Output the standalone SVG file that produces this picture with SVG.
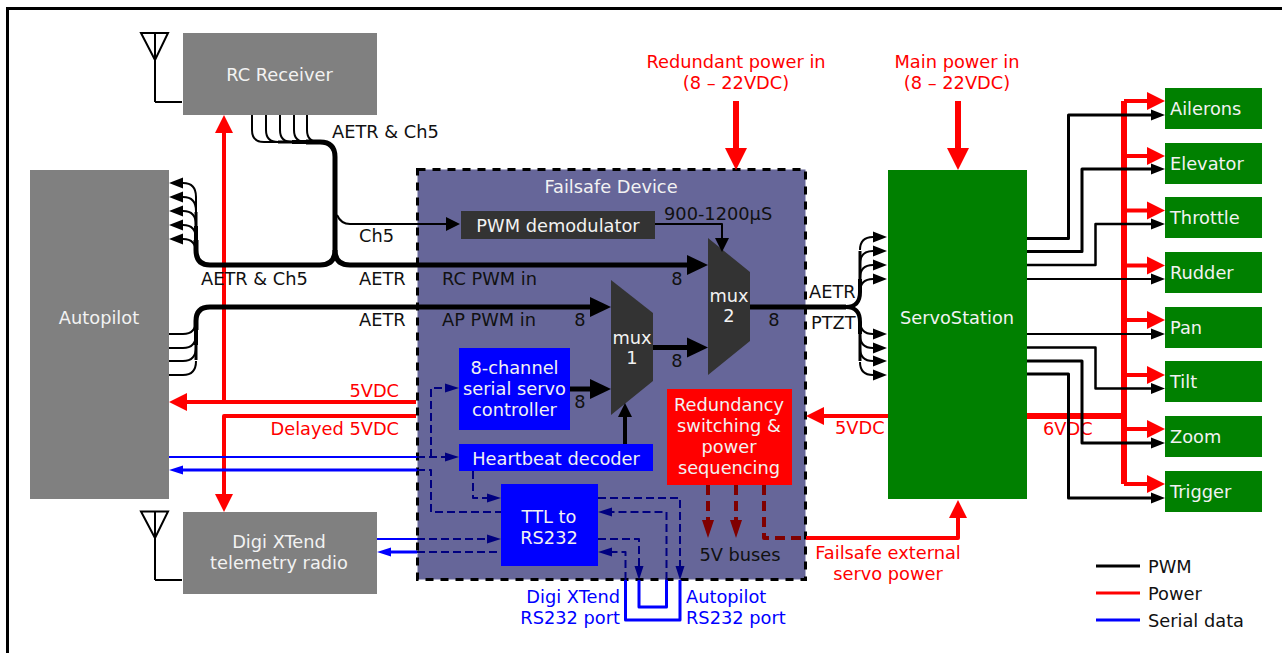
<svg xmlns="http://www.w3.org/2000/svg" width="1282" height="653" viewBox="0 0 1282 653">
<style>
text{font-family:"DejaVu Sans",Verdana,sans-serif;font-size:17.8px;fill:#111}
.m{text-anchor:middle}.e{text-anchor:end}
.w{fill:#f2f2f2}.r{fill:#f00}.b{fill:#00f}
.l{fill:none;stroke-linejoin:round}
.k{stroke:#000}.p{stroke:#f00;stroke-width:4}.s{stroke:#00f}
.n{stroke:#000080;stroke-width:2;stroke-dasharray:8 4}
.d{stroke:#800000;stroke-width:4;stroke-dasharray:10 6}
.ap{marker-end:url(#ar)}.ab{marker-end:url(#ab)}.an{marker-end:url(#an)}.ad{marker-end:url(#ad)}
</style>
<defs>
<marker id="ak" markerUnits="userSpaceOnUse" markerWidth="22" markerHeight="22" refX="0" refY="11" orient="auto" overflow="visible"><path d="M0 1L21 11L0 21Z" fill="#000"/></marker>
<marker id="at" markerUnits="userSpaceOnUse" markerWidth="15" markerHeight="12" refX="0" refY="6" orient="auto" overflow="visible"><path d="M0 0.500L14 6L0 11.500Z" fill="#000"/></marker>
<marker id="am" markerUnits="userSpaceOnUse" markerWidth="15" markerHeight="16" refX="0" refY="8" orient="auto" overflow="visible"><path d="M0 1L14 8L0 15Z" fill="#000"/></marker>
<marker id="ar" markerUnits="userSpaceOnUse" markerWidth="18" markerHeight="18" refX="0" refY="9" orient="auto" overflow="visible"><path d="M0 0L18 9L0 18Z" fill="#f00"/></marker>
<marker id="ar2" markerUnits="userSpaceOnUse" markerWidth="22" markerHeight="22" refX="0" refY="11" orient="auto" overflow="visible"><path d="M0 0L22 11L0 22Z" fill="#f00"/></marker>
<marker id="ab" markerUnits="userSpaceOnUse" markerWidth="15" markerHeight="10" refX="0" refY="5" orient="auto" overflow="visible"><path d="M0 0.500L14 5L0 9.500Z" fill="#00f"/></marker>
<marker id="an" markerUnits="userSpaceOnUse" markerWidth="15" markerHeight="10" refX="0" refY="5" orient="auto" overflow="visible"><path d="M0 0.500L14 5L0 9.500Z" fill="#000080"/></marker>
<marker id="ad" markerUnits="userSpaceOnUse" markerWidth="18" markerHeight="14" refX="0" refY="6" orient="auto" overflow="visible"><path d="M0 0L18 6L0 12Z" fill="#800000"/></marker>
</defs>
<rect width="1282" height="653" fill="#fff"/>
<path d="M7.500 653V8.500H1282" fill="none" stroke="#000" stroke-width="3"/>

<g id="rc-receiver"><rect x="183" y="33" width="194" height="82" fill="#808080"/><text class="m w" x="279.500" y="81">RC Receiver</text></g>
<g id="rc-antenna"><path d="M155 102H182M155 102V60M141 33H168L155 60L141 33ZM155 33V60" fill="none" stroke="#000" stroke-width="2"/></g>
<g id="autopilot"><rect x="30" y="170" width="139" height="329" fill="#808080"/><text class="m w" x="99" y="324">Autopilot</text></g>
<g id="digi-xtend"><rect x="183" y="512" width="194" height="82" fill="#808080"/><text class="m w" x="279" y="548">Digi XTend</text><text class="m w" x="279" y="569">telemetry radio</text></g>
<g id="digi-antenna"><path d="M155 580H182M155 580V538M141 511.500H168L155 538L141 511.500ZM155 511.500V538" fill="none" stroke="#000" stroke-width="2"/></g>
<g id="failsafe"><rect x="417.500" y="169.500" width="388" height="410" fill="#666699" stroke="#000" stroke-width="3" stroke-dasharray="8 7"/><text class="m w" x="611" y="193">Failsafe Device</text></g>
<g id="pwm-demodulator"><rect x="461" y="211" width="194" height="28" fill="#333"/><text class="m w" x="558" y="232">PWM demodulator</text></g>
<g id="mux1"><path d="M611 280L653 313V381L611 415Z" fill="#333"/><text class="m w" x="632" y="344">mux</text><text class="m w" x="632" y="364">1</text></g>
<g id="mux2"><path d="M708 238L750 272V341L708 375Z" fill="#333"/><text class="m w" x="729" y="302">mux</text><text class="m w" x="729" y="322">2</text></g>
<g id="servo-controller"><rect x="459" y="348" width="111" height="82" fill="#00f"/><text class="m w" x="514.500" y="374">8-channel</text><text class="m w" x="514.500" y="395">serial servo</text><text class="m w" x="514.500" y="416">controller</text></g>
<g id="heartbeat"><rect x="459" y="444" width="194" height="27" fill="#00f"/><text class="m w" x="556" y="465">Heartbeat decoder</text></g>
<g id="ttl"><rect x="501" y="484" width="97" height="82" fill="#00f"/><text class="m w" x="549" y="523">TTL to</text><text class="m w" x="549" y="544">RS232</text></g>
<g id="redundancy"><rect x="667" y="389" width="125" height="96" fill="#f00"/><text class="m w" x="729" y="411">Redundancy</text><text class="m w" x="729" y="432">switching &amp;</text><text class="m w" x="729" y="453">power</text><text class="m w" x="729" y="474">sequencing</text></g>
<g id="servostation"><rect x="888" y="170" width="139" height="329" fill="#008000"/><text class="m w" x="957" y="324">ServoStation</text></g>
<g id="out-ailerons"><rect x="1165" y="88" width="97" height="41" fill="#008000"/><text class="w" x="1170" y="115">Ailerons</text></g>
<g id="out-elevator"><rect x="1165" y="143" width="97" height="41" fill="#008000"/><text class="w" x="1170" y="170">Elevator</text></g>
<g id="out-throttle"><rect x="1165" y="197" width="97" height="41" fill="#008000"/><text class="w" x="1170" y="224">Throttle</text></g>
<g id="out-rudder"><rect x="1165" y="252" width="97" height="41" fill="#008000"/><text class="w" x="1170" y="279">Rudder</text></g>
<g id="out-pan"><rect x="1165" y="307" width="97" height="41" fill="#008000"/><text class="w" x="1170" y="334">Pan</text></g>
<g id="out-tilt"><rect x="1165" y="361" width="97" height="41" fill="#008000"/><text class="w" x="1170" y="388">Tilt</text></g>
<g id="out-zoom"><rect x="1165" y="416" width="97" height="41" fill="#008000"/><text class="w" x="1170" y="443">Zoom</text></g>
<g id="out-trigger"><rect x="1165" y="471" width="97" height="41" fill="#008000"/><text class="w" x="1170" y="498">Trigger</text></g>

<text class="r" x="1043" y="435">6VDC</text>

<g id="connectors">
<path class="l p ap" d="M224 402V133"/>
<path class="l p ap" d="M416 402H187"/>
<path class="l p ap" d="M416 416H224V494"/>
<path class="l" stroke="#f00" stroke-width="6" style="marker-end:url(#ar2)" d="M736 101V148"/>
<path class="l" stroke="#f00" stroke-width="6" style="marker-end:url(#ar2)" d="M958 101V148"/>
<path class="l p ap" d="M888 416H824"/>
<path class="l p ap" d="M806 538H958V518"/>
<path class="l" stroke="#f00" stroke-width="6" d="M1027 416H1124"/>
<path class="l" stroke="#f00" stroke-width="6" d="M1124 101V484"/>
<path class="l p ap" d="M1124 101H1147"/>
<path class="l p ap" d="M1124 156H1147"/>
<path class="l p ap" d="M1124 210.500H1147"/>
<path class="l p ap" d="M1124 265.500H1147"/>
<path class="l p ap" d="M1124 320H1147"/>
<path class="l p ap" d="M1124 375H1147"/>
<path class="l p ap" d="M1124 429H1147"/>
<path class="l p ap" d="M1124 484H1147"/>
<path class="l d ad" d="M708 485V520"/>
<path class="l d ad" d="M736 485V520"/>
<path class="l d" d="M764 485V538H806"/>
<path class="l k" stroke-width="2" d="M252 115V130Q252 142 264 142H278"/>
<path class="l k" stroke-width="2" d="M266 115V130Q266 142 278 142"/>
<path class="l k" stroke-width="2" d="M280 115V130Q280 142 292 142"/>
<path class="l k" stroke-width="2" d="M294 115V130Q294 142 306 142"/>
<path class="l k" stroke-width="2" d="M307 115V130Q307 142 319 142"/>
<path class="l k" stroke-width="3" d="M278 142H292"/>
<path class="l k" stroke-width="4" d="M292 142H306"/>
<path class="l k" stroke-width="5" d="M306 142H320Q335 142 335 157V250Q335 265 320 265H210Q196 265 196 250V240"/>
<path class="l k" stroke-width="4" d="M196 240V226"/>
<path class="l k" stroke-width="3" d="M196 226V212"/>
<path class="l k" stroke-width="2" d="M196 212V197"/>
<path class="l k" stroke-width="2" style="marker-end:url(#at)" d="M196 197Q196 183 183 183"/>
<path class="l k" stroke-width="2" style="marker-end:url(#at)" d="M196 211Q196 197 183 197"/>
<path class="l k" stroke-width="2" style="marker-end:url(#at)" d="M196 225Q196 211 183 211"/>
<path class="l k" stroke-width="2" style="marker-end:url(#at)" d="M196 239Q196 225 183 225"/>
<path class="l k" stroke-width="2" style="marker-end:url(#at)" d="M196 253Q196 239 183 239"/>
<path class="l k" stroke-width="5" style="marker-end:url(#ak)" d="M335 250Q335 265 350 265H687"/>
<path class="l k" stroke-width="2" style="marker-end:url(#am)" d="M337 215Q341 224 350 224H446"/>
<path class="l k" stroke-width="5" style="marker-end:url(#ak)" d="M196 330V321Q196 307 210 307H590"/>
<path class="l k" stroke-width="4" d="M196 345V330"/>
<path class="l k" stroke-width="3" d="M196 360V345"/>
<path class="l k" stroke-width="2" d="M169 334H183Q196 334 196 320"/>
<path class="l k" stroke-width="2" d="M169 348H183Q196 348 196 334"/>
<path class="l k" stroke-width="2" d="M169 361H183Q196 361 196 347"/>
<path class="l k" stroke-width="2" d="M169 375H183Q196 375 196 361"/>
<path class="l k" stroke-width="5" style="marker-end:url(#ak)" d="M653 347.500H687"/>
<path class="l k" stroke-width="5" style="marker-end:url(#ak)" d="M570 389H590"/>
<path class="l k" stroke-width="2" style="marker-end:url(#am)" d="M655 224H722V238"/>
<path class="l k" stroke-width="4" style="marker-end:url(#am)" d="M625 444V417"/>
<path class="l k" stroke-width="5" d="M750 307H846"/>
<path class="l k" stroke-width="4" d="M846 307Q860 307 860 292V279"/>
<path class="l k" stroke-width="4" d="M846 307Q860 307 860 322V334"/>
<path class="l k" stroke-width="3" d="M860 279V251M860 334V361"/>
<path class="l k" stroke-width="2" style="marker-end:url(#at)" d="M860 250Q860 237 873 237"/>
<path class="l k" stroke-width="2" style="marker-end:url(#at)" d="M860 264Q860 251 873 251"/>
<path class="l k" stroke-width="2" style="marker-end:url(#at)" d="M860 278Q860 265 873 265"/>
<path class="l k" stroke-width="2" style="marker-end:url(#at)" d="M860 292Q860 279 873 279"/>
<path class="l k" stroke-width="2" style="marker-end:url(#at)" d="M860 321Q860 334 873 334"/>
<path class="l k" stroke-width="2" style="marker-end:url(#at)" d="M860 335Q860 348 873 348"/>
<path class="l k" stroke-width="2" style="marker-end:url(#at)" d="M860 348Q860 361 873 361"/>
<path class="l k" stroke-width="2" style="marker-end:url(#at)" d="M860 362Q860 375 873 375"/>
<path class="l k" stroke-width="3" style="marker-end:url(#at)" d="M1027 238.500H1068.500V115H1151"/>
<path class="l k" stroke-width="3" style="marker-end:url(#at)" d="M1027 251.500H1082V169H1151"/>
<path class="l k" stroke-width="2.500" style="marker-end:url(#at)" d="M1027 265H1095.500V224H1151"/>
<path class="l k" stroke-width="2" style="marker-end:url(#at)" d="M1027 279H1151"/>
<path class="l k" stroke-width="2" style="marker-end:url(#at)" d="M1027 334H1151"/>
<path class="l k" stroke-width="2.500" style="marker-end:url(#at)" d="M1027 347.500H1095.500V388.500H1151"/>
<path class="l k" stroke-width="3" style="marker-end:url(#at)" d="M1027 361H1082V443H1151"/>
<path class="l k" stroke-width="3" style="marker-end:url(#at)" d="M1027 374H1068.500V498H1151"/>
<path class="l s" stroke-width="2" d="M169 457H417"/>
<path class="l s ab" stroke-width="3" d="M417 470H183"/>
<path class="l s" stroke-width="2" d="M377 539H417"/>
<path class="l s ab" stroke-width="3" d="M417 552H391"/>
<path class="l n an" d="M417 457H445"/>
<path class="l n an" d="M431 457V388H445"/>
<path class="l n" d="M417 470H431V512H501"/>
<path class="l n an" d="M473 471V498H487"/>
<path class="l n an" d="M417 539H487"/>
<path class="l n" d="M417 552H501"/>
<path class="l n an" d="M598 498H680V566"/>
<path class="l n an" d="M666.500 580V512H612"/>
<path class="l n an" d="M598 539H639V566"/>
<path class="l n an" d="M625.500 580V552H612"/>
<path class="l s" stroke-width="3" d="M625.500 580V620H680V580"/>
<path class="l s" stroke-width="3" d="M639 580V607H666.500V580"/>
</g>

<g id="labels">
<text class="r m" x="736" y="68">Redundant power in</text><text class="r m" x="736" y="89">(8 – 22VDC)</text>
<text class="r m" x="957" y="68">Main power in</text><text class="r m" x="957" y="89">(8 – 22VDC)</text>
<text x="332" y="138">AETR &amp; Ch5</text>
<text x="359" y="242">Ch5</text>
<text x="201" y="285">AETR &amp; Ch5</text>
<text x="359" y="285">AETR</text>
<text x="359" y="326">AETR</text>
<text x="442" y="285">RC PWM in</text>
<text x="442" y="326">AP PWM in</text>
<text class="m" x="677" y="285">8</text>
<text class="m" x="580" y="326">8</text>
<text class="m" x="677" y="367">8</text>
<text class="m" x="580" y="408">8</text>
<text class="m" x="774" y="326">8</text>
<text x="664" y="220">900-1200µS</text>
<text x="809" y="298">AETR</text>
<text x="811" y="329">PTZT</text>
<text class="r e" x="399" y="397">5VDC</text>
<text class="r e" x="399" y="435">Delayed 5VDC</text>
<text class="r" x="835" y="434">5VDC</text>
<text class="m" x="740" y="561">5V buses</text>
<text class="r m" x="888" y="559">Failsafe external</text><text class="r m" x="888" y="580">servo power</text>
<text class="b e" x="620" y="603">Digi XTend</text><text class="b e" x="620" y="624">RS232 port</text>
<text class="b" x="686" y="603">Autopilot</text><text class="b" x="686" y="624">RS232 port</text>
</g>
<g id="legend">
<path d="M1096 566H1140" stroke="#000" stroke-width="3"/><text x="1148" y="573">PWM</text>
<path d="M1096 593H1140" stroke="#f00" stroke-width="3"/><text x="1148" y="600">Power</text>
<path d="M1096 620H1140" stroke="#00f" stroke-width="3"/><text x="1148" y="627">Serial data</text>
</g>
</svg>
